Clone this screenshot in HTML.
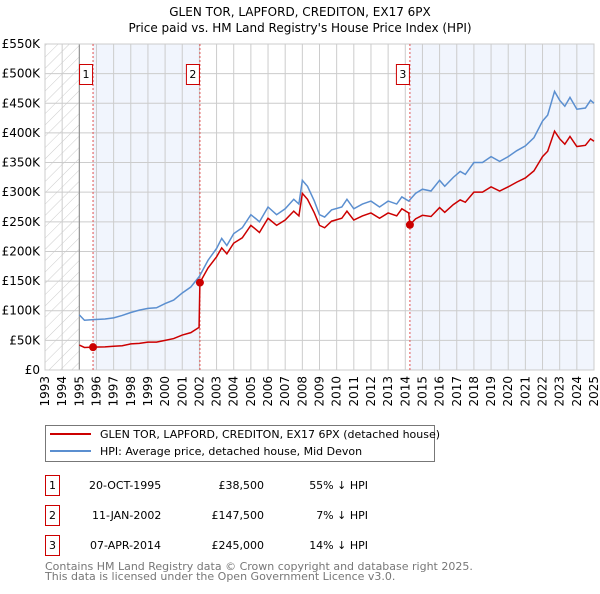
<!DOCTYPE html>
<html><head><meta charset="utf-8"><style>
body{margin:0;background:#fff;font-family:"DejaVu Sans","Liberation Sans",sans-serif;}
svg text{font-family:"DejaVu Sans","Liberation Sans",sans-serif;}
</style></head><body>
<svg id="chart" width="600" height="590" xmlns="http://www.w3.org/2000/svg">
<defs><pattern id="hatch" width="8" height="8" patternUnits="userSpaceOnUse" patternTransform="rotate(45)"><line x1="0" y1="0" x2="0" y2="8" stroke="#ccc" stroke-width="1"/></pattern></defs>
<text x="300" y="16" text-anchor="middle" font-size="12">GLEN TOR, LAPFORD, CREDITON, EX17 6PX</text>
<text x="300" y="32" text-anchor="middle" font-size="12">Price paid vs. HM Land Registry's House Price Index (HPI)</text>
<g id="plot"></g>
<g>
<rect x="45.5" y="425.5" width="389" height="36" fill="#fff" stroke="#777"/>
<line x1="50" y1="434" x2="91" y2="434" stroke="#cc0000" stroke-width="2"/>
<text x="100" y="438" font-size="11">GLEN TOR, LAPFORD, CREDITON, EX17 6PX (detached house)</text>
<line x1="50" y1="451" x2="91" y2="451" stroke="#5b8fd0" stroke-width="2"/>
<text x="100" y="455" font-size="11">HPI: Average price, detached house, Mid Devon</text>
</g>
<g font-size="11">
<rect x="45.5" y="475.5" width="14" height="20" fill="#fff" stroke="#cc0000"/><text x="52.5" y="489" text-anchor="middle">1</text>
<text x="89" y="489">20-OCT-1995</text><text x="264" y="489" text-anchor="end">£38,500</text><text x="368" y="489" text-anchor="end">55% ↓ HPI</text>
<rect x="45.5" y="505.5" width="14" height="20" fill="#fff" stroke="#cc0000"/><text x="52.5" y="519" text-anchor="middle">2</text>
<text x="92" y="519">11-JAN-2002</text><text x="264" y="519" text-anchor="end">£147,500</text><text x="368" y="519" text-anchor="end">7% ↓ HPI</text>
<rect x="45.5" y="535.5" width="14" height="20" fill="#fff" stroke="#cc0000"/><text x="52.5" y="549" text-anchor="middle">3</text>
<text x="90" y="549">07-APR-2014</text><text x="264" y="549" text-anchor="end">£245,000</text><text x="368" y="549" text-anchor="end">14% ↓ HPI</text>
</g>
<text x="45" y="570" font-size="11" fill="#777">Contains HM Land Registry data © Crown copyright and database right 2025.</text>
<text x="45" y="580" font-size="11" fill="#777">This data is licensed under the Open Government Licence v3.0.</text>
</svg>
<script>
const hpiDates=[1995.0,1995.3,1995.8,1996.5,1997,1997.5,1998,1998.5,1999,1999.5,2000,2000.5,2001,2001.5,2002.0,2002.5,2003,2003.3,2003.6,2004,2004.5,2005,2005.3,2005.5,2006,2006.5,2007,2007.5,2007.8,2008,2008.3,2008.7,2009,2009.3,2009.7,2010.3,2010.6,2011,2011.5,2012,2012.5,2013,2013.5,2013.8,2014.2,2014.6,2015,2015.5,2016,2016.3,2016.8,2017.2,2017.5,2018,2018.5,2019,2019.5,2020,2020.5,2021,2021.5,2022,2022.3,2022.7,2023,2023.3,2023.6,2024,2024.5,2024.8,2025];
const hpiValues=[93,84,85,86,88,92,97,101,104,105,112,118,130,140,158,185,205,222,210,230,240,262,255,250,275,262,272,288,280,320,310,285,262,258,270,275,288,272,280,285,275,285,280,292,285,298,305,302,320,310,325,335,330,350,350,360,352,360,370,378,392,420,430,470,455,445,460,440,442,455,450];
const priceDates=[1995.0,1995.3,1995.8,1996.5,1997,1997.5,1998,1998.5,1999,1999.5,2000,2000.5,2001,2001.5,2001.98,2002.03,2002.5,2003,2003.3,2003.6,2004,2004.5,2005,2005.3,2005.5,2006,2006.5,2007,2007.5,2007.8,2008,2008.3,2008.7,2009,2009.3,2009.7,2010.3,2010.6,2011,2011.5,2012,2012.5,2013,2013.5,2013.8,2014.2,2014.27,2014.6,2015,2015.5,2016,2016.3,2016.8,2017.2,2017.5,2018,2018.5,2019,2019.5,2020,2020.5,2021,2021.5,2022,2022.3,2022.7,2023,2023.3,2023.6,2024,2024.5,2024.8,2025];
const priceValues=[42,38,38.5,39,40,41,44,45,47,47,50,53,59,63,72,147.5,172,191,206,196,214,223,244,237,232,256,244,253,268,260,298,288,265,244,240,251,256,268,253,260,265,256,265,260,272,265,245,255,261,259,274,266,279,287,283,300,300,309,302,309,317,324,336,360,369,403,390,381,394,377,379,390,386];
const saleLabels=["1","2","3"];
const saleDates=[1995.8,2002.03,2014.27];
const salePrices=[38.5,147.5,245];
const yTicks=[0,50,100,150,200,250,300,350,400,450,500,550];
const yTickLabels=["£0","£50K","£100K","£150K","£200K","£250K","£300K","£350K","£400K","£450K","£500K","£550K"];
const xYears=[1993,1994,1995,1996,1997,1998,1999,2000,2001,2002,2003,2004,2005,2006,2007,2008,2009,2010,2011,2012,2013,2014,2015,2016,2017,2018,2019,2020,2021,2022,2023,2024,2025];

const X0=45,X1=594,Y0=370,Y1=44;
const xs=t=>X0+(t-1993)/(2025-1993)*(X1-X0);
const ys=v=>Y0-v/550*(Y0-Y1);
const NS="http://www.w3.org/2000/svg";
const g=document.getElementById('plot');
function mk(tag,attrs){const e=document.createElementNS(NS,tag);for(const k in attrs)e.setAttribute(k,attrs[k]);g.appendChild(e);return e;}
let e;
e=mk('rect',{x:xs(1993),y:Y1,width:xs(1995)-xs(1993),height:Y0-Y1,fill:'url(#hatch)'});


e=mk('rect',{x:xs(saleDates[0]),y:Y1,width:xs(saleDates[1])-xs(saleDates[0]),height:Y0-Y1,fill:'#eef3fc',opacity:0.8});


e=mk('rect',{x:xs(saleDates[2]),y:Y1,width:xs(2025)-xs(saleDates[2]),height:Y0-Y1,fill:'#eef3fc',opacity:0.8});


yTicks.forEach((v,i)=>{
 e=mk('line',{x1:X0,x2:X1,y1:ys(v),y2:ys(v),stroke:'#ccc','stroke-width':1});
 
 
 e=mk('text',{x:40,y:ys(v)+4,'text-anchor':'end','font-size':12});
 e.textContent=yTickLabels[i];
 
 
});
xYears.forEach(yr=>{
 e=mk('line',{x1:xs(yr),x2:xs(yr),y1:Y1,y2:Y0,stroke:'#ccc','stroke-width':1});
 
 
 e=mk('text',{x:0,y:0,'text-anchor':'end','font-size':12,transform:`translate(${xs(yr)+4},376) rotate(-90)`});
 e.textContent=yr;
 
 
});
e=mk('line',{x1:xs(1995),x2:xs(1995),y1:Y1,y2:Y0,stroke:'#888','stroke-width':1});


e=mk('rect',{x:X0,y:Y1,width:X1-X0,height:Y0-Y1,fill:'none',stroke:'#ccc'});


saleDates.forEach((d,i)=>{
 e=mk('line',{x1:xs(d),x2:xs(d),y1:Y1,y2:Y0,stroke:'#e05050','stroke-width':1,'stroke-dasharray':'2,2'});
 
 
 e=mk('rect',{x:xs(d)-20.5+7,y:64.5,width:13,height:20,fill:'#fff',stroke:'#cc0000'});
 e.setAttribute('x',xs(d)-13.5);
 
 
 e=mk('text',{x:xs(d)-7,y:78,'text-anchor':'middle','font-size':11});
 e.textContent=saleLabels[i];
 
 
});
e=mk('polyline',{points:hpiDates.map((d,i)=>xs(d)+','+ys(hpiValues[i])).join(' '),fill:'none',stroke:'#5b8fd0','stroke-width':1.5});


e=mk('polyline',{points:priceDates.map((d,i)=>xs(d)+','+ys(priceValues[i])).join(' '),fill:'none',stroke:'#cc0000','stroke-width':1.5});


saleDates.forEach((d,i)=>{
 e=mk('circle',{cx:xs(d),cy:ys(salePrices[i]),r:4,fill:'#cc0000'});
 
 
});
</script>
</body></html>
